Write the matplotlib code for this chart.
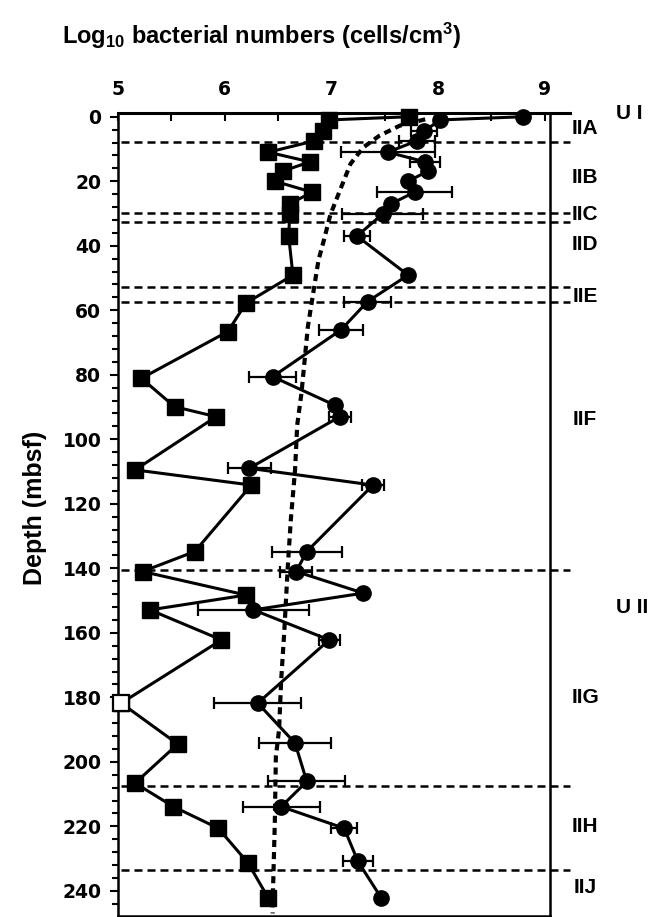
import numpy as np
import matplotlib
matplotlib.use("Agg")
import matplotlib.pyplot as plt
from matplotlib import font_manager

# total counts (circles): depth (mbsf), log10 cells/cm3, +/- error
circ_depth = [0, 1, 4.5, 7.5, 11, 14, 16.8, 20, 23.4, 27, 30.2, 37, 49.1, 57.3,
              66.1, 80.6, 89.4, 93, 109, 114.2, 134.8, 141, 147.7, 152.9, 162.2,
              181.8, 194.2, 206.1, 213.9, 220.6, 230.9, 242.3]
circ_val = [8.80, 8.02, 7.87, 7.80, 7.53, 7.88, 7.91, 7.72, 7.78, 7.56, 7.48, 7.24,
            7.72, 7.34, 7.09, 6.45, 7.03, 7.08, 6.23, 7.39, 6.77, 6.67, 7.30, 6.27,
            6.98, 6.31, 6.66, 6.77, 6.53, 7.12, 7.25, 7.47]
circ_err = [0, 0, 0.12, 0.17, 0.44, 0.14, 0, 0, 0.35, 0, 0.38, 0.12, 0, 0.22,
            0.21, 0.22, 0, 0.10, 0.20, 0.10, 0.33, 0.15, 0, 0.52, 0.10, 0.41,
            0.34, 0.36, 0.36, 0.12, 0.14, 0]

# dividing cells (squares)
sq_depth = [0, 1, 4.5, 7.5, 11, 14, 16.8, 20, 23.4, 27, 30.2, 37, 49.1, 57.8,
            66.6, 81.1, 89.9, 93, 109.5, 114.2, 134.8, 141, 148.3, 152.9, 162.2,
            181.8, 194.5, 206.6, 213.9, 220.6, 231.4, 242.3]
sq_val = [7.73, 6.98, 6.92, 6.84, 6.41, 6.80, 6.55, 6.47, 6.82, 6.61, 6.61, 6.60,
          6.64, 6.20, 6.03, 5.22, 5.53, 5.92, 5.16, 6.25, 5.72, 5.23, 6.20, 5.30,
          5.97, 5.03, 5.56, 5.16, 5.52, 5.94, 6.22, 6.41]
open_sq_depth = [181.8]
open_sq_val = [5.03]

# general model curve
mod_depth = [0.8, 2.8, 5.9, 9.5, 14.6, 22.9, 30.5, 38.3, 44.4, 54.7, 65.1, 75.4,
             85.7, 95.6, 109.5, 125, 140.5, 159, 174.6, 190, 198.4, 219, 243.8, 247]
mod_val = [7.88, 7.64, 7.45, 7.30, 7.18, 7.08, 6.99, 6.93, 6.88, 6.83, 6.78, 6.75,
           6.72, 6.68, 6.66, 6.62, 6.59, 6.56, 6.53, 6.51, 6.48, 6.47, 6.45, 6.45]

# lithological boundaries
bound_depth = [7.7, 30.0, 32.5, 52.7, 57.3, 140.5, 207.6, 233.5]
units = ["U I", "IIA", "IIB", "IIC", "IID", "IIE", "IIF", "U II", "IIG", "IIH", "IIJ"]
unit_depth = [-1.0, 3.8, 19, 30.2, 39.5, 55.6, 94, 152.3, 180, 220, 239]

names = {f.name for f in font_manager.fontManager.ttflist}
narrow = "Liberation Sans Narrow" if "Liberation Sans Narrow" in names else "Liberation Sans"
big = 22 if narrow == "Liberation Sans Narrow" else 17

plt.rcParams["mathtext.fontset"] = "custom"
plt.rcParams["mathtext.rm"] = narrow + ":bold"
plt.rcParams["mathtext.default"] = "rm"

fig = plt.figure(figsize=(6.5, 9.17), dpi=100)
ax = fig.add_axes([118/650, 1/917, 432/650, 803/917])
ax.set_xlim(5, 9.05)
ax.set_ylim(247.8, -1.15)

for d in bound_depth:
    ax.plot([5.03, 9.24], [d, d], color="black", lw=1.8, dashes=(3.2, 2.0),
            clip_on=False, zorder=1)
ax.plot([5, 9.24], [-1.15, -1.15], color="black", lw=2.2, clip_on=False, zorder=2)

ax.plot(mod_val, mod_depth, color="black", lw=3, dashes=(1.7, 1.2), zorder=2)

ax.errorbar(circ_val, circ_depth, xerr=circ_err, fmt="none", ecolor="black",
            elinewidth=1.6, capsize=4, capthick=1.6, zorder=3)
ax.plot(circ_val, circ_depth, color="black", lw=2.2, marker="o", ms=11,
        clip_on=False, zorder=4)
ax.plot(sq_val, sq_depth, color="black", lw=2.2, marker="s", ms=12,
        clip_on=False, zorder=4)
ax.plot(open_sq_val, open_sq_depth, ls="none", marker="s", ms=12, mfc="white",
        mec="black", mew=1.6, clip_on=False, zorder=5)

ax.xaxis.tick_top()
ax.set_xticks([5, 6, 7, 8, 9])
ax.set_xticks(np.arange(5.5, 9, 1.0), minor=True)
ax.tick_params(axis="x", which="both", direction="in", length=6, width=1.5, pad=10,
               labelsize=13.5)
ax.set_yticks(np.arange(0, 241, 20))
ax.set_yticks(np.arange(0, 248, 4), minor=True)
ax.tick_params(axis="y", which="major", direction="out", length=6, width=1.5, pad=6,
               labelsize=13.5)
ax.tick_params(axis="y", which="minor", direction="out", length=4, width=1.5)
for lab in ax.get_xticklabels() + ax.get_yticklabels():
    lab.set_fontweight("bold")
for s in ax.spines.values():
    s.set_linewidth(1.8)

for u, d in zip(units, unit_depth):
    if u.startswith("U"):
        ax.text(9.67, d, u, fontsize=15, fontweight="bold", family="Liberation Sans",
                ha="left", va="center", clip_on=False)
    else:
        ax.text(9.38, d, u, fontsize=15, fontweight="bold", family="Liberation Sans",
                ha="center", va="center", clip_on=False)

fig.text(0.402, 1 - 44/917, r"Log$_{10}$ bacterial numbers (cells/cm$^{3}$)",
         fontsize=big, fontweight="bold", family=narrow, ha="center", va="baseline")
fig.text(35/650, 1 - 508/917, "Depth (mbsf)", fontsize=big + 1, fontweight="bold",
         family=narrow, rotation=90, ha="center", va="center")

fig.savefig("out.png", dpi=100)
